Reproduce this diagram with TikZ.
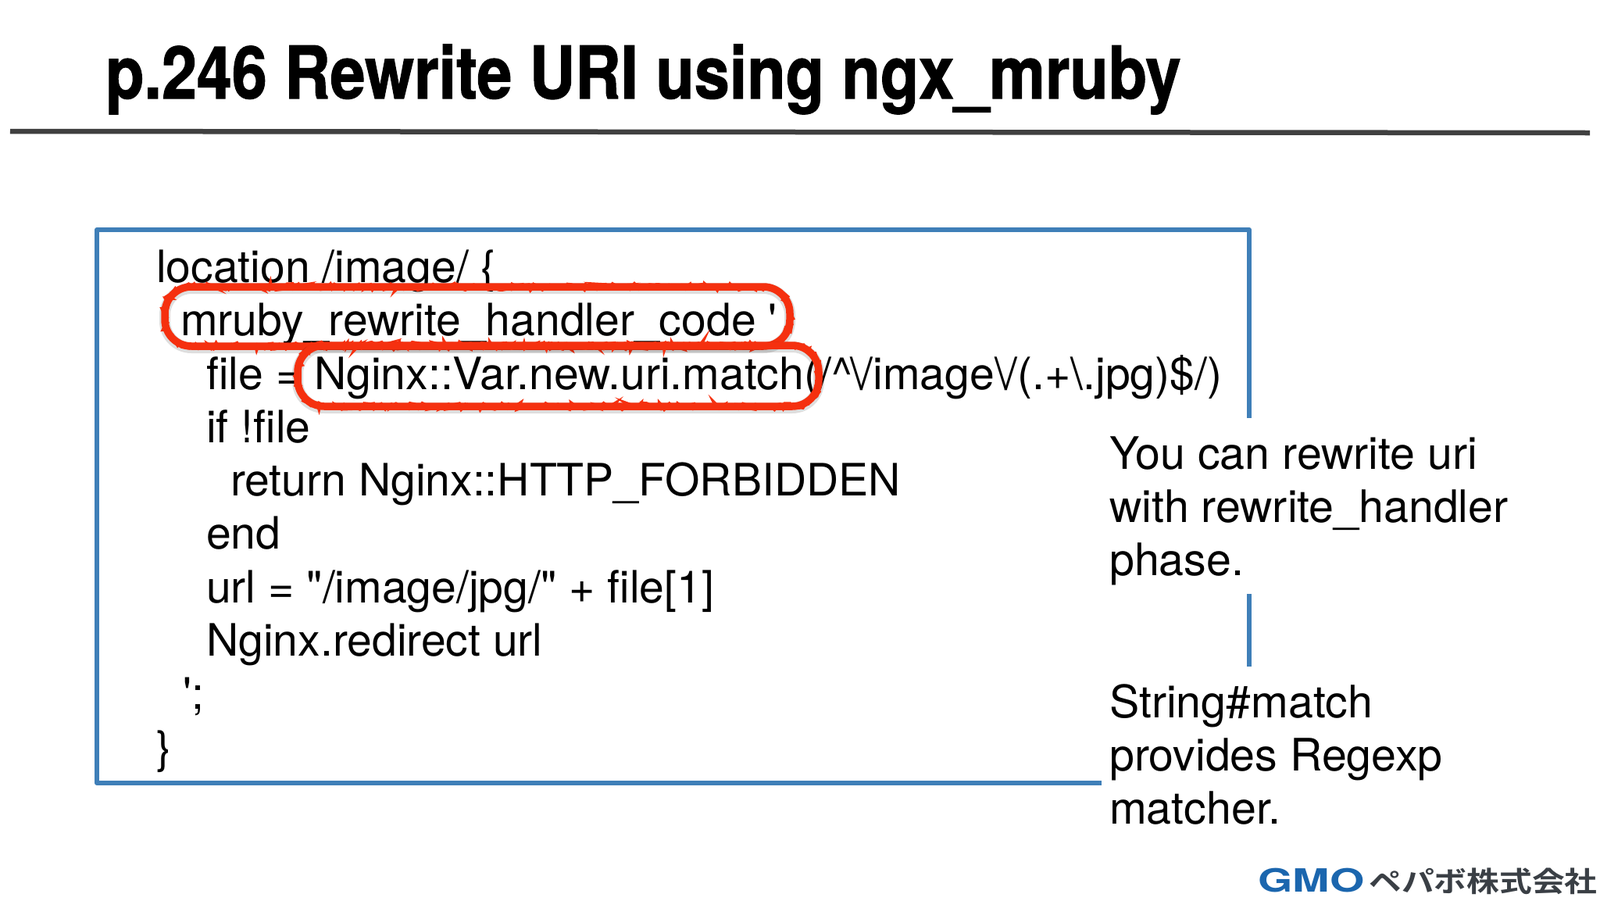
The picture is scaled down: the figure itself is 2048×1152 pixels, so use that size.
\documentclass[tikz,border=0pt]{standalone}
\usepackage{fontspec}
\setmainfont{TeX Gyre Heros}[Ligatures=TeXOff]
\newfontfamily\titlefont{TeX Gyre Heros}[BoldFeatures={FakeBold=1.3}]
\newfontfamily\cjk{Noto Sans CJK JP}[BoldFont={* Bold}]
\usetikzlibrary{decorations.pathmorphing}
\definecolor{boxblue}{HTML}{3F7FB8}
\definecolor{scrib}{HTML}{F5300F}
\definecolor{logoblue}{HTML}{1B66AE}
\definecolor{logogray}{HTML}{3A3F45}
\newcommand{\scribpath}[4]{(#1+34,#2) -- (#3-34,#2) arc[start angle=90,end angle=0,radius=34pt] -- (#3,#4-34) arc[start angle=0,end angle=-90,radius=34pt] -- (#1+34,#4) arc[start angle=-90,end angle=-180,radius=34pt] -- (#1,#2+34) arc[start angle=180,end angle=90,radius=34pt] -- cycle}
\tikzset{
  code/.style={anchor=base west,inner sep=0pt,font=\fontsize{57.1}{57.1}\selectfont,text=black},
  note/.style={anchor=base west,inner sep=0pt,font=\fontsize{57.3}{57.3}\selectfont,text=black,align=left},
  frame/.style={draw=boxblue,line width=6pt},
  scribshadow/.style={draw=black,opacity=.13,line width=14pt},
  scribcore/.style={draw=scrib,line width=9.5pt},
  scribfuzz/.style={draw=scrib,line width=5pt,decorate,decoration={random steps,segment length=4pt,amplitude=3.5pt}}
}
\begin{document}
\begin{tikzpicture}[x=1pt,y=-1pt]
\useasboundingbox (0,0) rectangle (2048,1152);
\fill[white] (0,0) rectangle (2048,1152);
\node[anchor=base west,inner sep=0pt,font=\titlefont\bfseries\fontsize{93}{93}\selectfont,xscale=.869] (title) at (135,126) {p.246 Rewrite URI using ngx\_mruby};
\coordinate (ruleL) at (13,168);
\coordinate (ruleR) at (2035,170);
\draw[line width=6.5pt,draw=black!75] (ruleL) -- (ruleR);
\coordinate (b1) at (1410,1002);
\coordinate (b2) at (124,1002);
\coordinate (b3) at (124,294);
\coordinate (b4) at (1599,294);
\coordinate (b5) at (1599,535);
\coordinate (b6) at (1599,760);
\coordinate (b7) at (1599,853);
\draw[frame,line join=round] (b1) -- (b2) -- (b3) -- (b4) -- (b5);
\draw[frame] (b6) -- (b7);
\node[code] (c1) at (200,361) {location /image/ \{};
\node[code] (c2) at (231,429) {mruby\_rewrite\_handler\_code '};
\node[code] (c3) at (264,498) {file = Nginx::Var.new.uri.match(/\^{}\kern-2.5pt\textbackslash\kern-2.5pt/image\textbackslash\kern-2.5pt/(.+\textbackslash.jpg)\$/)};
\node[code] (c4) at (264,566) {if !file};
\node[code] (c5) at (295,634) {return Nginx::HTTP\_FORBIDDEN};
\node[code] (c6) at (264,702) {end};
\node[code] (c7) at (264,771) {url = "/image/jpg/" + file[1]};
\node[code] (c8) at (264,839) {Nginx.redirect url};
\node[code] (c9) at (234,907) {';};
\node[code] (c10) at (200,976) {\}};
\node[note] (n1) at (1420,600) {You can rewrite uri};
\node[note] (n2) at (1420,668) {with rewrite\_handler};
\node[note] (n3) at (1420,736) {phase.};
\node[note] (n4) at (1420,918) {String\#match};
\node[note] (n5) at (1420,986) {provides Regexp};
\node[note] (n6) at (1420,1054) {matcher.};
\draw[scribshadow] \scribpath{211}{369}{1011}{445};
\draw[scribcore] \scribpath{211}{367}{1011}{443};
\draw[scribfuzz] \scribpath{211}{367}{1011}{443};
\draw[scribshadow] \scribpath{381}{444}{1048}{522};
\draw[scribcore] \scribpath{381}{442}{1048}{520};
\draw[scribfuzz] \scribpath{381}{442}{1048}{520};
\node[anchor=base west,inner sep=0pt,text=logoblue,font=\fontsize{41}{41}\selectfont\bfseries,xscale=1.39] (gmo) at (1610,1141) {GMO};
\node[anchor=base west,inner sep=0pt,text=logogray,font=\cjk\bfseries\fontsize{36}{36}\selectfont,xscale=1.16] (pepabo) at (1752,1141) {ペパボ株式会社};
\end{tikzpicture}
\end{document}
